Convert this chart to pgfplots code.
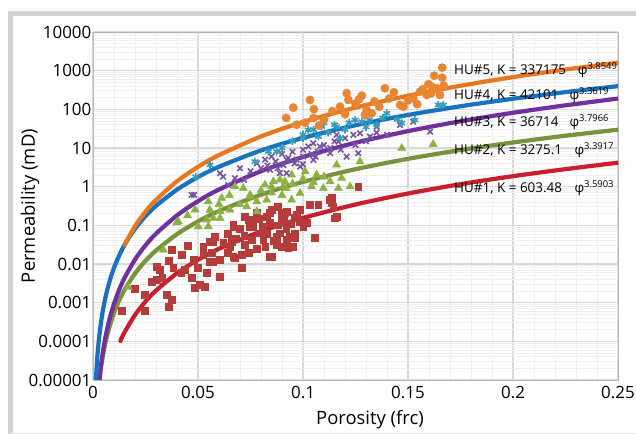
\documentclass[border=0pt]{standalone}
\usepackage{fontspec}
\setmainfont{Open Sans}
\usepackage{pgfplots}
\pgfplotsset{compat=1.18}
\definecolor{cOrange}{RGB}{232,119,34}
\definecolor{cBlue}{RGB}{23,114,192}
\definecolor{cPurple}{RGB}{112,48,160}
\definecolor{cGreen}{RGB}{119,147,60}
\definecolor{cRed}{RGB}{200,30,45}
\definecolor{mOrange}{RGB}{232,135,50}
\definecolor{mBlue}{RGB}{55,155,190}
\definecolor{mPurple}{RGB}{115,85,160}
\definecolor{mGreen}{RGB}{140,178,70}
\definecolor{mRed}{RGB}{180,60,58}
\definecolor{frame}{RGB}{212,212,212}

\pgfplotstableread{
x y
0.0954 111
0.1033 175
0.1052 101
0.1010 45
0.1076 38
0.1176 117
0.1200 75
0.1208 261
0.1216 175
0.1267 182
0.1280 226
0.1295 72
0.1327 79
0.1363 117
0.1390 351
0.1433 277
0.1462 130
0.1478 117
0.1525 194
0.1544 136
0.1557 287
0.1597 445
0.1613 386
0.1625 743
0.1663 1197
0.1663 659
0.1637 351
0.1652 236
0.1589 236
0.1303 96
0.0920 60
0.0970 40
0.1050 60
0.1100 55
0.1140 90
0.1250 140
0.1340 160
0.1410 190
0.1500 170
0.1570 330
0.1610 260
0.1670 410
}\huFive

\pgfplotstableread{
x y
0.0490 1.8
0.0557 3.66
0.0771 4.45
0.0875 8.07
0.0835 8.07
0.1025 29.4
0.1089 35.7
0.1073 19.7
0.1160 35.7
0.1176 17.9
0.1248 53
0.1280 48
0.1316 53
0.1399 79
0.1470 44
0.1533 53
0.1644 130
0.1668 130
0.0950 15
0.1000 22
0.1120 25
0.1200 30
0.1350 40
0.1100 45
0.1300 35
0.1050 30
0.1150 40
0.1220 45
0.1000 18
0.0900 10
0.1380 60
0.1450 55
}\huFour

\pgfplotstableread{
x y
0.0470 0.614
0.0482 0.614
0.0605 2.23
0.0620 1.82
0.0644 1.11
0.0676 1.66
0.0843 2.72
0.0890 2.23
0.0906 3.66
0.0922 2.23
0.1025 10.9
0.1049 13.3
0.1160 21.8
0.1168 14.6
0.1240 21.8
0.1271 24.1
0.1319 19.7
0.1351 35.7
0.1462 39.5
0.1525 48
0.1605 26.5
0.0922 4.93
0.0986 3.31
0.1049 4.93
0.1129 7.34
0.1208 6.0
0.1263 7.34
0.1001 6.0
0.0750 2.5
0.0780 4
0.0800 3
0.0820 5
0.0850 6
0.0870 4.5
0.0950 8
0.0970 5
0.1000 9
0.1070 8
0.1100 12
0.1130 10
0.1180 9
0.0720 1.5
0.0700 3
0.0900 7
0.0930 5.5
0.0960 4
0.1040 7
0.1080 11
0.1150 15
0.1200 18
0.1250 12
0.1300 15
0.1350 25
0.1400 22
0.0830 3.5
0.0880 3
0.1000 3.8
0.1060 6
}\huThree

\pgfplotstableread{
x y
0.0549 0.412
0.0613 0.505
0.0676 1.0
0.0716 0.915
0.0748 0.614
0.0780 0.412
0.0819 1.11
0.0859 1.36
0.0890 1.5
0.0906 1.0
0.0827 0.456
0.0780 0.228
0.0732 0.306
0.0652 0.252
0.0605 0.228
0.0573 0.153
0.0541 0.139
0.0946 2.02
0.1010 2.45
0.1041 1.0
0.1097 0.915
0.1129 1.36
0.1160 3.66
0.1184 1.66
0.1168 0.915
0.1224 1.0
0.0986 0.68
0.0914 1.36
0.0946 0.456
0.1065 2.02
0.1271 4.45
0.1470 9.9
0.1620 12.5
0.0486 0.252
0.0406 0.125
0.0335 0.0233
0.0399 0.118
0.0501 0.093
0.0549 0.093
0.0605 0.153
0.0168 0.00253
0.0700 0.35
0.0750 0.55
0.0800 0.8
0.0850 0.7
0.0900 0.6
0.0950 1.2
0.1000 1.6
0.1050 1.3
0.1100 1.8
0.0650 0.6
0.0600 0.35
0.0556 0.25
0.0450 0.18
0.0850 1.0
0.0920 0.9
}\huTwo

\pgfplotstableread{
x y
0.0137 0.000618
0.0200 0.00225
0.0248 0.0016
0.0248 0.000618
0.0303 0.0086
0.0303 0.00391
0.0319 0.00708
0.0351 0.0016
0.0359 0.000798
0.0375 0.00119
0.0382 0.00783
0.0375 0.0233
0.0422 0.0173
0.0438 0.00708
0.0470 0.00432
0.0478 0.0128
0.0486 0.00238
0.0510 0.0029
0.0533 0.00262
0.0525 0.0283
0.0557 0.0381
0.0573 0.0116
0.0605 0.0128
0.0605 0.00475
0.0565 0.0191
0.0652 0.0283
0.0668 0.093
0.0668 0.0156
0.0708 0.00783
0.0724 0.0313
0.0740 0.139
0.0763 0.093
0.0795 0.0628
0.0811 0.0422
0.0827 0.169
0.0851 0.0156
0.0875 0.0514
0.0899 0.0283
0.0914 0.207
0.0938 0.0514
0.0954 0.0283
0.0986 0.252
0.1057 0.0467
0.1018 0.114
0.0843 0.114
0.0780 0.207
0.0668 0.103
0.0724 0.169
0.0780 0.187
0.0843 0.207
0.0899 0.187
0.0970 0.187
0.0890 0.0628
0.0962 0.0467
0.0875 0.0313
0.0930 0.0258
0.0843 0.0156
0.0708 0.0173
0.0676 0.0142
0.0557 0.0116
0.0525 0.0173
0.0573 0.0381
0.0660 0.0381
0.0748 0.093
0.0803 0.0628
0.0756 0.0422
0.1033 0.339
0.1073 0.339
0.1129 0.456
0.1144 0.306
0.1152 0.153
0.1263 1.0
0.0962 0.0628
0.0922 0.0422
0.0986 0.125
0.0922 0.228
0.1001 0.093
0.1160 0.169
0.1137 0.375
0.1137 0.505
0.0580 0.05
0.0620 0.035
0.0640 0.06
0.0680 0.045
0.0700 0.08
0.0720 0.055
0.0760 0.12
0.0790 0.15
0.0810 0.09
0.0830 0.06
0.0860 0.04
0.0880 0.1
0.0900 0.13
0.0920 0.08
0.0940 0.11
0.0960 0.16
0.0850 0.25
0.0880 0.3
0.0910 0.15
0.0820 0.028
0.0780 0.025
0.0740 0.02
0.0640 0.02
0.0450 0.03
0.0420 0.006
0.0280 0.0035
0.0330 0.0045
0.0360 0.012
0.0500 0.008
0.0540 0.006
}\huOne

\begin{document}
\begin{tikzpicture}[x=1bp,y=1bp]
\useasboundingbox (0,0) rectangle (636,-434);
\fill[white] (0,0) rectangle (636,-434);
\draw[line width=5bp, color=frame] (10.5,-440) -- (10.5,-13.5) -- (650,-13.5);
\draw[line width=1bp, color=frame!60] (10,-433) -- (650,-433);
\begin{axis}[
  at={(93bp,-380bp)}, anchor=south west,
  scale only axis, width=525bp, height=348bp,
  ymode=log, xmin=0, xmax=0.25, ymin=1e-5, ymax=1e4,
  xtick={0,0.05,0.1,0.15,0.2,0.25},
  xticklabels={0,0.05,0.1,0.15,0.2,0.25},
  minor xtick={0.01,0.02,0.03,0.04,0.06,0.07,0.08,0.09,0.11,0.12,0.13,0.14,0.16,0.17,0.18,0.19,0.21,0.22,0.23,0.24},
  ytick={1e-5,1e-4,1e-3,1e-2,1e-1,1,10,100,1000,10000},
  yticklabels={0.00001,0.0001,0.001,0.01,0.1,1,10,100,1000,10000},
  minor ytick={2e-5,3e-5,4e-5,5e-5,6e-5,7e-5,8e-5,9e-5,
    2e-4,3e-4,4e-4,5e-4,6e-4,7e-4,8e-4,9e-4,
    2e-3,3e-3,4e-3,5e-3,6e-3,7e-3,8e-3,9e-3,
    2e-2,3e-2,4e-2,5e-2,6e-2,7e-2,8e-2,9e-2,
    0.2,0.3,0.4,0.5,0.6,0.7,0.8,0.9,
    2,3,4,5,6,7,8,9,20,30,40,50,60,70,80,90,
    200,300,400,500,600,700,800,900,2000,3000,4000,5000,6000,7000,8000,9000},
  grid=both,
  major grid style={color=black!15, line width=1.1bp},
  minor grid style={color=black!6, line width=0.8bp},
  axis line style={color=black!28, line width=1bp},
  major tick length=0pt, minor tick length=0pt,
  /pgf/number format/assume math mode=true,
  tick label style={font=\fontsize{17}{19}\selectfont, text=black},
  xticklabel style={anchor=north, inner sep=0pt, yshift=-6bp},
  yticklabel style={anchor=east, inner sep=0pt, xshift=-1.5bp},
  label style={font=\fontsize{18.5}{21}\selectfont},
  xlabel={Porosity (frc)},
  xlabel style={at={(axis description cs:0.5276,-0.115)}, anchor=center},
  ylabel={Permeability (mD)},
  ylabel style={at={(axis description cs:-0.12,0.5)}, anchor=center},
  clip=true,
]
\addplot[color=mRed, only marks, mark=square*, mark size=3.4bp, mark options={fill=mRed, draw=mRed, line width=0.5bp}] table[x=x,y=y] {\huOne};
\addplot[color=mGreen, only marks, mark=triangle*, mark size=4.6bp, mark options={fill=mGreen, draw=mGreen, line width=0.5bp}] table[x=x,y=y] {\huTwo};
\addplot[color=mPurple, only marks, mark=x, mark size=3.8bp, mark options={draw=mPurple, line width=1.6bp}] table[x=x,y=y] {\huThree};
\addplot[color=mBlue, only marks, mark=asterisk, mark size=3.8bp, mark options={draw=mBlue, line width=1.6bp}] table[x=x,y=y] {\huFour};
\addplot[color=mOrange, only marks, mark=*, mark size=4.2bp, mark options={fill=mOrange, draw=mOrange, line width=0.3bp}] table[x=x,y=y] {\huFive};

% HU#1
\addplot[cRed, line width=4.2bp, smooth, line cap=round] coordinates {
(0.013,1.02e-4)(0.015,1.71e-4)(0.02,4.80e-4)(0.025,1.07e-3)(0.03,2.06e-3)(0.04,5.78e-3)(0.05,0.0129)(0.06,0.0248)(0.08,0.0695)(0.1,0.155)(0.125,0.346)(0.15,0.665)(0.175,1.16)(0.2,1.87)(0.225,2.84)(0.25,4.17)};
% HU#2
\addplot[cGreen, line width=4.2bp, smooth] coordinates {
(0.00309,1e-5)(0.0035,1.53e-5)(0.004,2.41e-5)(0.005,5.14e-5)(0.006,9.53e-5)(0.007,1.61e-4)(0.008,2.53e-4)(0.01,5.40e-4)(0.0125,1.15e-3)(0.015,2.13e-3)(0.02,5.66e-3)(0.025,0.0121)(0.03,0.0223)(0.04,0.0593)(0.05,0.126)(0.06,0.234)(0.08,0.622)(0.1,1.33)(0.125,2.83)(0.15,5.25)(0.175,8.85)(0.2,13.9)(0.225,20.8)(0.25,29.7)};
% HU#3
\addplot[cPurple, line width=4.2bp, smooth] coordinates {
(0.003025,1e-5)(0.0035,1.74e-5)(0.004,2.89e-5)(0.005,6.74e-5)(0.006,1.35e-4)(0.007,2.42e-4)(0.008,4.02e-4)(0.01,9.37e-4)(0.0125,2.19e-3)(0.015,4.37e-3)(0.02,0.0130)(0.025,0.0304)(0.03,0.0607)(0.04,0.181)(0.05,0.423)(0.06,0.843)(0.08,2.51)(0.1,5.86)(0.125,13.7)(0.15,27.3)(0.175,49.1)(0.2,81.5)(0.225,127)(0.25,190)};
% HU#4
\addplot[cBlue, line width=4.2bp, smooth] coordinates {
(0.00137,1e-5)(0.0015,1.35e-5)(0.002,3.55e-5)(0.0025,7.52e-5)(0.003,1.39e-4)(0.004,3.65e-4)(0.005,7.73e-4)(0.006,1.43e-3)(0.008,3.75e-3)(0.01,7.95e-3)(0.0125,0.0168)(0.015,0.0310)(0.02,0.0817)(0.025,0.173)(0.03,0.319)(0.04,0.840)(0.05,1.78)(0.06,3.28)(0.08,8.64)(0.1,18.3)(0.125,38.8)(0.15,71.5)(0.175,120)(0.2,188)(0.225,279)(0.25,398)};
% HU#5
\addplot[cOrange, line width=4.2bp, smooth, line cap=round] coordinates {
(0.015,0.0314)(0.02,0.0953)(0.025,0.225)(0.03,0.454)(0.04,1.377)(0.05,3.26)(0.06,6.56)(0.08,19.9)(0.1,47.1)(0.125,111)(0.15,225)(0.175,407)(0.2,681)(0.225,1071)(0.25,1610)};
\end{axis}
\begin{scope}[every node/.style={inner sep=0pt, anchor=base west, font=\fontsize{13.5}{15}\selectfont}]
\node at (454,-75) {HU\#5, K = 337175};
\node at (577.7,-75) {φ\textsuperscript{3.8549}};
\node at (454,-99.3) {HU\#4, K = 42101};
\node at (569.3,-99.3) {φ\textsuperscript{3.3619}};
\node at (454,-126.7) {HU\#3, K = 36714};
\node at (569.3,-126.7) {φ\textsuperscript{3.7966}};
\node at (454,-155) {HU\#2, K = 3275.1};
\node at (574.3,-155) {φ\textsuperscript{3.3917}};
\node at (454,-192.7) {HU\#1, K = 603.48};
\node at (574.3,-192.7) {φ\textsuperscript{3.5903}};
\end{scope}
\end{tikzpicture}
\end{document}
